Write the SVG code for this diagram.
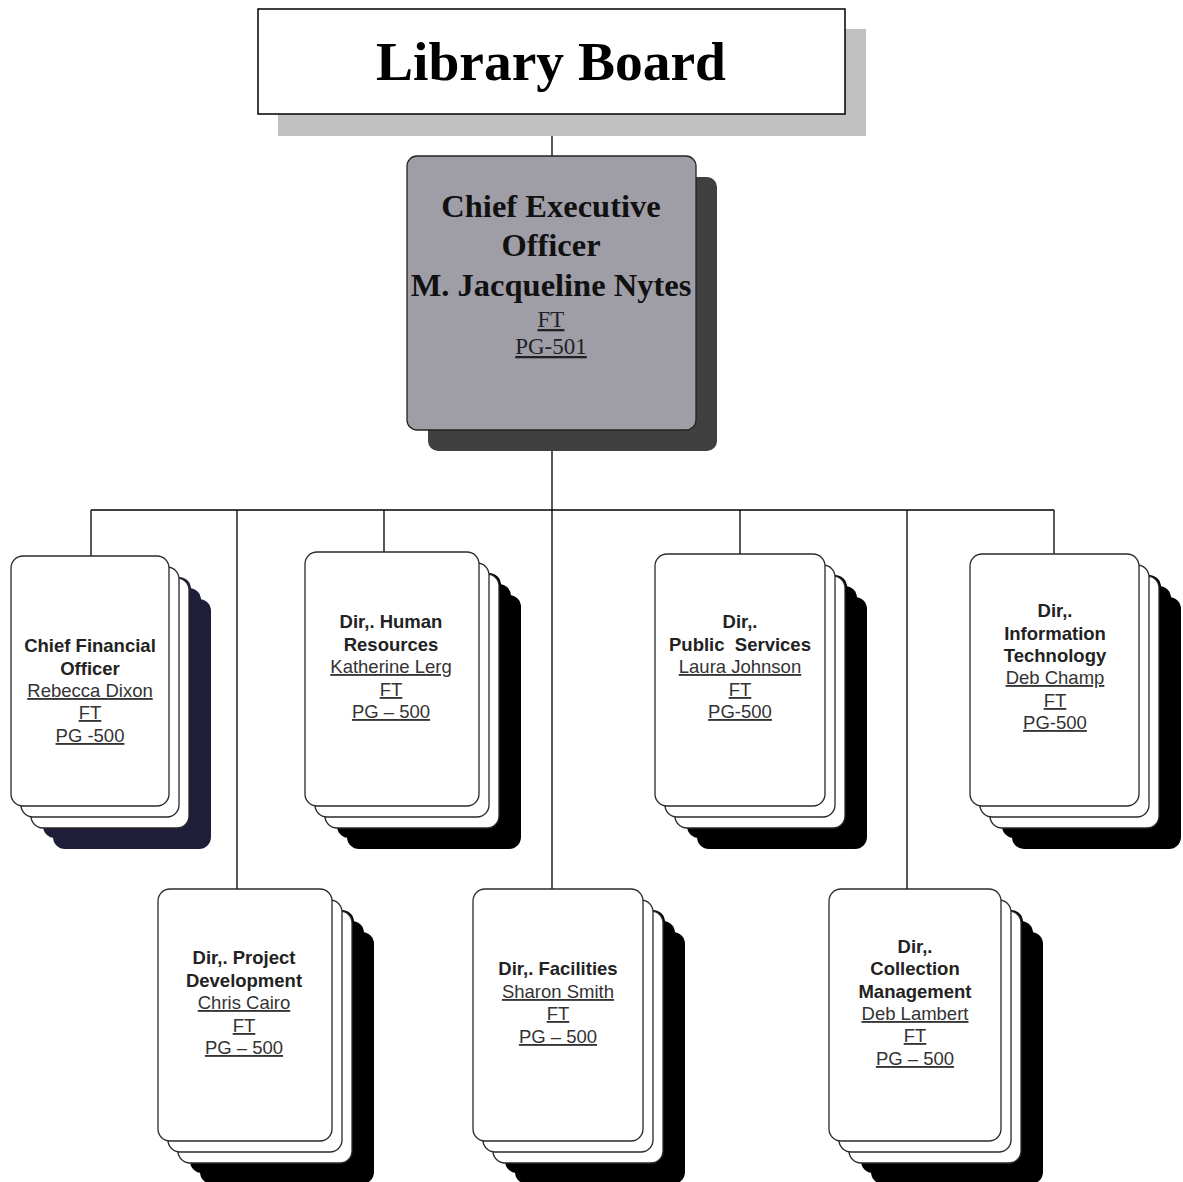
<svg xmlns="http://www.w3.org/2000/svg" width="1183" height="1182" viewBox="0 0 1183 1182">
<defs>
<style>
.bg{fill:#ffffff}
.card{fill:#ffffff;stroke:#2a2a2a;stroke-width:1.3}
.sh{fill:#000000}
.shn{fill:#1e1e38}
.t{font-family:"Liberation Sans",Arial,sans-serif;font-size:18.5px;font-weight:bold;fill:#222;text-anchor:middle}
.n{font-family:"Liberation Sans",Arial,sans-serif;font-size:18.5px;fill:#333;text-anchor:middle;text-decoration:underline}
.ct{font-family:"Liberation Serif","Times New Roman",serif;font-size:32.5px;font-weight:bold;fill:#111;text-anchor:middle}
.cn{font-family:"Liberation Serif","Times New Roman",serif;font-size:23px;fill:#222;text-anchor:middle;text-decoration:underline}
.ln{stroke:#000;stroke-width:1.3;fill:none}
</style>
</defs>
<rect class="bg" x="0" y="0" width="1183" height="1182"/>

<g id="connectors">
<line class="ln" x1="552" y1="114" x2="552" y2="156"/>
<line class="ln" x1="552" y1="430" x2="552" y2="889"/>
<line class="ln" x1="91" y1="510" x2="1054" y2="510"/>
<line class="ln" x1="91" y1="510" x2="91" y2="556"/>
<line class="ln" x1="237" y1="510" x2="237" y2="889"/>
<line class="ln" x1="384" y1="510" x2="384" y2="552"/>
<line class="ln" x1="740" y1="510" x2="740" y2="554"/>
<line class="ln" x1="907" y1="510" x2="907" y2="889"/>
<line class="ln" x1="1054" y1="510" x2="1054" y2="554"/>
</g>

<g id="library-board">
<rect x="278" y="29" width="588" height="107" fill="#c0c0c0"/>
<rect x="258" y="9" width="587" height="105" fill="#fff" stroke="#000" stroke-width="1.5"/>
<text x="551" y="80" font-family="Liberation Serif,'Times New Roman',serif" font-size="55.5" font-weight="bold" fill="#000" text-anchor="middle">Library Board</text>
</g>

<g id="ceo">
<rect x="428" y="177" width="289" height="274" rx="10" fill="#404040"/>
<rect x="407" y="156" width="289" height="274" rx="10" fill="#9f9ea7" stroke="#222" stroke-width="1.3"/>
<text class="ct" x="551" y="217">Chief Executive</text>
<text class="ct" x="551" y="256">Officer</text>
<text class="ct" x="551" y="296">M. Jacqueline Nytes</text>
<text class="cn" x="551" y="327">FT</text>
<text class="cn" x="551" y="354">PG-501</text>
</g>

<g id="cfo">
<rect class="shn" x="53" y="599" width="158" height="250" rx="12"/>
<rect class="shn" x="43" y="588" width="158" height="250" rx="12"/>
<rect class="shn" x="33" y="577" width="158" height="250" rx="12"/>
<rect class="card" x="31" y="578" width="158" height="250" rx="12"/>
<rect class="card" x="21" y="567" width="158" height="250" rx="12"/>
<rect class="card" x="11" y="556" width="158" height="250" rx="12"/>
<text class="t" x="90" y="652">Chief Financial</text>
<text class="t" x="90" y="675">Officer</text>
<text class="n" x="90" y="697">Rebecca Dixon</text>
<text class="n" x="90" y="719">FT</text>
<text class="n" x="90" y="742">PG -500</text>
</g>

<g id="hr">
<rect class="sh" x="347" y="595" width="174" height="254" rx="12"/>
<rect class="sh" x="337" y="584" width="174" height="254" rx="12"/>
<rect class="sh" x="327" y="573" width="174" height="254" rx="12"/>
<rect class="card" x="325" y="574" width="174" height="254" rx="12"/>
<rect class="card" x="315" y="563" width="174" height="254" rx="12"/>
<rect class="card" x="305" y="552" width="174" height="254" rx="12"/>
<text class="t" x="391" y="628">Dir,. Human</text>
<text class="t" x="391" y="651">Resources</text>
<text class="n" x="391" y="673">Katherine Lerg</text>
<text class="n" x="391" y="696">FT</text>
<text class="n" x="391" y="718">PG – 500</text>
</g>

<g id="public-services">
<rect class="sh" x="697" y="597" width="170" height="252" rx="12"/>
<rect class="sh" x="687" y="586" width="170" height="252" rx="12"/>
<rect class="sh" x="677" y="575" width="170" height="252" rx="12"/>
<rect class="card" x="675" y="576" width="170" height="252" rx="12"/>
<rect class="card" x="665" y="565" width="170" height="252" rx="12"/>
<rect class="card" x="655" y="554" width="170" height="252" rx="12"/>
<text class="t" x="740" y="628">Dir,.</text>
<text class="t" x="740" y="651" xml:space="preserve">Public  Services</text>
<text class="n" x="740" y="673">Laura Johnson</text>
<text class="n" x="740" y="696">FT</text>
<text class="n" x="740" y="718">PG-500</text>
</g>

<g id="information-technology">
<rect class="sh" x="1012" y="597" width="169" height="252" rx="12"/>
<rect class="sh" x="1002" y="586" width="169" height="252" rx="12"/>
<rect class="sh" x="992" y="575" width="169" height="252" rx="12"/>
<rect class="card" x="990" y="576" width="169" height="252" rx="12"/>
<rect class="card" x="980" y="565" width="169" height="252" rx="12"/>
<rect class="card" x="970" y="554" width="169" height="252" rx="12"/>
<text class="t" x="1055" y="617">Dir,.</text>
<text class="t" x="1055" y="640">Information</text>
<text class="t" x="1055" y="662">Technology</text>
<text class="n" x="1055" y="684">Deb Champ</text>
<text class="n" x="1055" y="707">FT</text>
<text class="n" x="1055" y="729">PG-500</text>
</g>

<g id="project-development">
<rect class="sh" x="200" y="932" width="174" height="252" rx="12"/>
<rect class="sh" x="190" y="921" width="174" height="252" rx="12"/>
<rect class="sh" x="180" y="910" width="174" height="252" rx="12"/>
<rect class="card" x="178" y="911" width="174" height="252" rx="12"/>
<rect class="card" x="168" y="900" width="174" height="252" rx="12"/>
<rect class="card" x="158" y="889" width="174" height="252" rx="12"/>
<text class="t" x="244" y="964">Dir,. Project</text>
<text class="t" x="244" y="987">Development</text>
<text class="n" x="244" y="1009">Chris Cairo</text>
<text class="n" x="244" y="1032">FT</text>
<text class="n" x="244" y="1054">PG – 500</text>
</g>

<g id="facilities">
<rect class="sh" x="515" y="932" width="170" height="252" rx="12"/>
<rect class="sh" x="505" y="921" width="170" height="252" rx="12"/>
<rect class="sh" x="495" y="910" width="170" height="252" rx="12"/>
<rect class="card" x="493" y="911" width="170" height="252" rx="12"/>
<rect class="card" x="483" y="900" width="170" height="252" rx="12"/>
<rect class="card" x="473" y="889" width="170" height="252" rx="12"/>
<text class="t" x="558" y="975">Dir,. Facilities</text>
<text class="n" x="558" y="998">Sharon Smith</text>
<text class="n" x="558" y="1020">FT</text>
<text class="n" x="558" y="1043">PG – 500</text>
</g>

<g id="collection-management">
<rect class="sh" x="871" y="932" width="172" height="252" rx="12"/>
<rect class="sh" x="861" y="921" width="172" height="252" rx="12"/>
<rect class="sh" x="851" y="910" width="172" height="252" rx="12"/>
<rect class="card" x="849" y="911" width="172" height="252" rx="12"/>
<rect class="card" x="839" y="900" width="172" height="252" rx="12"/>
<rect class="card" x="829" y="889" width="172" height="252" rx="12"/>
<text class="t" x="915" y="953">Dir,.</text>
<text class="t" x="915" y="975">Collection</text>
<text class="t" x="915" y="998">Management</text>
<text class="n" x="915" y="1020">Deb Lambert</text>
<text class="n" x="915" y="1042">FT</text>
<text class="n" x="915" y="1065">PG – 500</text>
</g>
</svg>
